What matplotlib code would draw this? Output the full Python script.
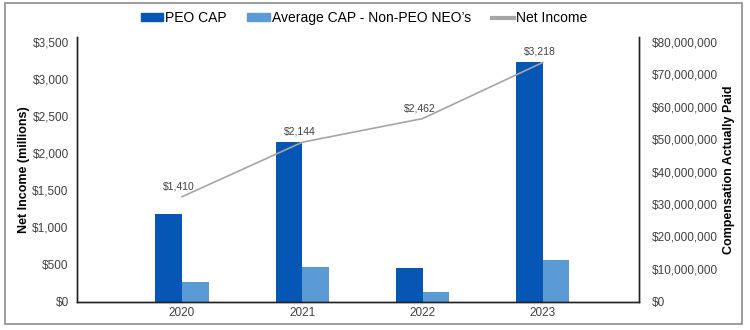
import matplotlib.pyplot as plt
from matplotlib.patches import Patch, Rectangle
from matplotlib.lines import Line2D
from matplotlib.ticker import FuncFormatter

plt.rcParams['font.family'] = ['Liberation Sans', 'DejaVu Sans']

years = ['2020', '2021', '2022', '2023']
net_income = [1410, 2144, 2462, 3218]                           # $ millions
peo_cap = [26.8e6, 49.2e6, 10.3e6, 73.8e6]                      # $
neo_avg_cap = [5.9e6, 10.6e6, 2.8e6, 12.9e6]                    # $

peo_color = '#0656B6'
neo_color = '#5B9BD5'
line_color = '#A5A5A5'
text_color = '#404040'

fig = plt.figure(figsize=(7.5, 3.3), dpi=100)
W, H = 750, 330
left_px, right_px, top_px, bot_px = 77, 639, 37, 301.5
ax = fig.add_axes([left_px / W, 1 - bot_px / H,
                   (right_px - left_px) / W, (bot_px - top_px) / H])
ax2 = ax.twinx()

# the bars use the right-hand axis, the net income line the left one
ax.set_zorder(ax2.get_zorder() + 1)
ax.patch.set_visible(False)

x = list(range(len(years)))
bw = 0.222
ax2.bar([i - bw / 2 for i in x], peo_cap, width=bw, color=peo_color, zorder=2)
ax2.bar([i + bw / 2 for i in x], neo_avg_cap, width=bw, color=neo_color, zorder=2)

ax.plot(x, net_income, color=line_color, lw=1.2, zorder=3)
for xi, v in zip(x, net_income):
    ax.annotate(f'${v:,}', (xi, v), xytext=(-2, 4), textcoords='offset points',
                ha='center', va='bottom', fontsize=7.5, color=text_color)

stretch = (bot_px - top_px) / (bot_px - 41.5)
ax.set_ylim(0, 3500 * stretch)
ax2.set_ylim(0, 80e6 * stretch)
ax.set_yticks(range(0, 3501, 500))
ax2.set_yticks([i * 10e6 for i in range(9)])
ax.yaxis.set_major_formatter(FuncFormatter(lambda v, p: f'${v:,.0f}'))
ax2.yaxis.set_major_formatter(FuncFormatter(lambda v, p: f'${v:,.0f}'))

ax.set_xlim(-0.873, 3.80)
ax.set_xticks(x)
ax.set_xticklabels(years)

for a in (ax, ax2):
    a.tick_params(axis='both', length=0, labelsize=8.5, labelcolor=text_color)
    a.spines['top'].set_visible(False)
    for s in ('left', 'right', 'bottom'):
        a.spines[s].set_color('#222222')
        a.spines[s].set_linewidth(1.0)
ax.tick_params(axis='y', pad=6)
ax2.tick_params(axis='y', pad=9)
ax.tick_params(axis='x', pad=4)

ax.set_ylabel('Net Income (millions)', fontsize=9, fontweight='bold',
              color='black', labelpad=2)
ax2.set_ylabel('Compensation Actually Paid', fontsize=9, fontweight='bold',
               color='black', labelpad=4)

handles = [Patch(color=peo_color), Patch(color=neo_color),
           Line2D([], [], color=line_color, lw=3)]
labels = ['PEO CAP', 'Average CAP - Non-PEO NEO\u2019s', 'Net Income']
fig.legend(handles, labels, loc='center', bbox_to_anchor=(364 / W, 1 - 18 / H),
           ncol=3, frameon=False, fontsize=10, handlelength=1.6,
           handleheight=0.45, handletextpad=0.15, columnspacing=1.5)

fig.add_artist(Rectangle((5 / W, 1 - 324 / H), 737 / W, 321 / H,
                         transform=fig.transFigure, fill=False,
                         edgecolor='#8C8C8C', lw=1.2))

fig.savefig('out.png', dpi=100)
